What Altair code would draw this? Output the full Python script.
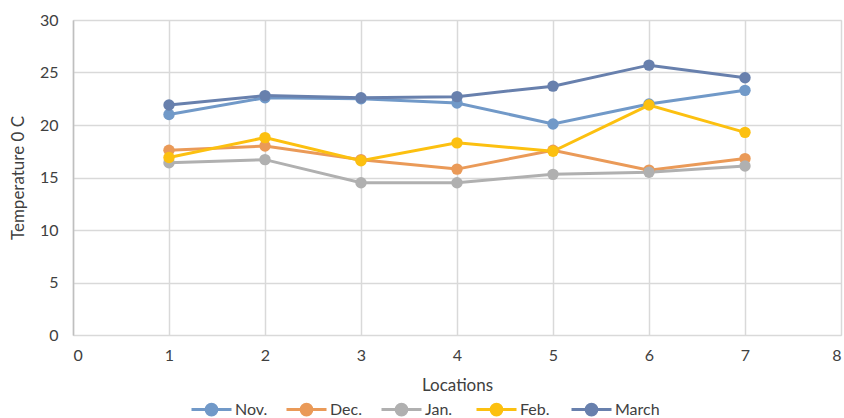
import altair as alt
import pandas as pd

locations = [1, 2, 3, 4, 5, 6, 7]
months = ["Nov.", "Dec.", "Jan.", "Feb.", "March"]
nov = [21.0, 22.6, 22.5, 22.1, 20.1, 22.0, 23.3]
dec = [17.6, 18.0, 16.7, 15.8, 17.6, 15.7, 16.8]
jan = [16.4, 16.7, 14.5, 14.5, 15.3, 15.5, 16.1]
feb = [16.9, 18.8, 16.6, 18.3, 17.5, 21.9, 19.3]
march = [21.9, 22.8, 22.6, 22.7, 23.7, 25.7, 24.5]
colors = ["#7199c8", "#ea9a58", "#b0b0b0", "#fcc010", "#6880ad"]
x_ticks = [0, 1, 2, 3, 4, 5, 6, 7, 8]
y_ticks = [0, 5, 10, 15, 20, 25, 30]

rows = []
for m, vals in zip(months, [nov, dec, jan, feb, march]):
    for loc, v in zip(locations, vals):
        rows.append({"Location": loc, "Temp": v, "Month": m})
df = pd.DataFrame(rows)

FONT = "Lato"
sym = "M-1,0L1,0M-0.27,0A0.27,0.27 0 1,1 0.27,0A0.27,0.27 0 1,1 -0.27,0Z"

x = alt.X("Location:Q", scale=alt.Scale(domain=[0, 8], nice=False),
          axis=alt.Axis(title="Locations", values=x_ticks, labelOverlap=False,
                        grid=True, gridColor="#d9d9d9", gridWidth=1.5, domain=False,
                        ticks=False, labelPadding=12, labelFontSize=16, labelColor="#404040",
                        titleFontSize=17, titleFontWeight="normal", titleColor="#404040",
                        titlePadding=14, labelFont=FONT, titleFont=FONT))
y = alt.Y("Temp:Q", scale=alt.Scale(domain=[0, 30], nice=False),
          axis=alt.Axis(title="Temperature 0 C", values=y_ticks, labelOverlap=False,
                        grid=True, gridColor="#d9d9d9", gridWidth=1.5, domain=True,
                        domainColor="#bfbfbf", domainWidth=1.5, ticks=False,
                        labelPadding=15, labelFontSize=16, labelColor="#404040",
                        titleFontSize=17, titleFontWeight="normal", titleColor="#404040",
                        titlePadding=12, labelFont=FONT, titleFont=FONT))
color = alt.Color("Month:N", scale=alt.Scale(domain=months, range=colors),
                  legend=alt.Legend(title=None, orient="none", direction="horizontal",
                                    legendX=117, legendY=368, columns=5, gridAlign="all",
                                    symbolType=sym, symbolSize=1600, symbolStrokeWidth=3,
                                    labelFontSize=16, labelFont=FONT, labelColor="#404040",
                                    labelOffset=2, columnPadding=0, symbolOffset=0))

base = alt.Chart(df).encode(x=x, y=y, color=color)
lines = base.mark_line(strokeWidth=3)
points = base.mark_point(filled=True, size=130, opacity=1)

chart = (lines + points).properties(
    width=768, height=315,
    autosize=alt.AutoSizeParams(type="none"),
    padding={"left": 73, "top": 20, "right": 3, "bottom": 83},
).configure_view(stroke=None).configure(background="white")

chart.save("out.html", embed_options={"renderer": "svg", "actions": False})
